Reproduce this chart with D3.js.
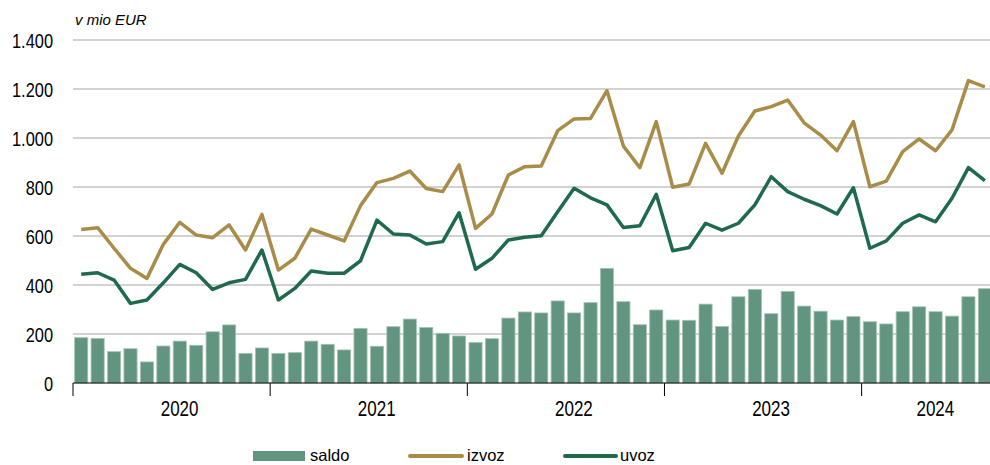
<!DOCTYPE html>
<html>
<head>
<meta charset="utf-8">
<script src="https://cdn.jsdelivr.net/npm/d3@7/dist/d3.min.js"></script>
<style>
  html, body { margin: 0; padding: 0; background: #fff; }
  svg { display: block; }
</style>
</head>
<body>
<svg id="chart" width="990" height="465"></svg>
<script>
// ---- data ----
const years = ["2020", "2021", "2022", "2023", "2024"];
const monthsPerYear = [12, 12, 12, 12, 8];
const yTicks = [0, 200, 400, 600, 800, 1000, 1200, 1400];
const unitLabel = "v mio EUR";
const seriesNames = ["saldo", "izvoz", "uvoz"];

const saldo = [185, 182, 128, 140, 86, 151, 171, 154, 209, 237, 121, 143,
               121, 124, 171, 158, 135, 223, 150, 230, 261, 227, 203, 192,
               165, 181, 265, 290, 286, 335, 286, 328, 468, 332, 238, 298,
               257, 256, 322, 231, 352, 382, 283, 374, 314, 293, 257, 271,
               250, 241, 291, 311, 291, 273, 352, 385];
const izvoz = [627, 634, 550, 468, 427, 566, 656, 604, 593, 645, 543, 688,
               461, 509, 628, 604, 580, 724, 818, 835, 865, 794, 781, 890,
               631, 690, 849, 883, 886, 1030, 1078, 1080, 1193, 967, 879, 1067,
               799, 812, 978, 856, 1008, 1110, 1128, 1155, 1062, 1012, 948, 1067,
               801, 824, 944, 996, 948, 1033, 1234, 1209];
const uvoz = [444, 450, 420, 325, 339, 409, 484, 450, 382, 409, 423, 543,
              339, 386, 457, 448, 448, 499, 665, 608, 604, 567, 577, 695,
              464, 509, 584, 595, 601, 699, 795, 756, 727, 635, 642, 770,
              540, 553, 652, 624, 652, 727, 842, 781, 750, 724, 690, 797,
              550, 580, 652, 686, 658, 754, 879, 826];

// categories: one per month
const categories = [];
years.forEach((yr, i) => { for (let m = 1; m <= monthsPerYear[i]; m++) categories.push(m + "/" + yr); });

(function draw() {
  const W = 990;
  const left = 73, step = 16.43;
  const right = left + step * categories.length;
  const plotTop = 40, plotBottom = 383;
  const colBar = "#62957f", colBarEdge = "#a7c4b6", colIzvoz = "#a88c48", colUvoz = "#1f6a4d", colGrid = "#c3c3c3";
  const sans = "Liberation Sans, Arial, sans-serif";

  const svg = d3.select("#chart");

  const x = d3.scaleBand().domain(categories).range([left, right]).paddingInner(0.2).paddingOuter(0.1);
  const y = d3.scaleLinear().domain([0, 1400]).range([plotBottom, plotTop]);

  const loc = d3.formatLocale({ decimal: ",", thousands: ".", grouping: [3], currency: ["", " EUR"] });
  const fmt = loc.format(",");

  // gridlines
  svg.append("g").selectAll("line").data(yTicks.filter(d => d > 0)).join("line")
    .attr("x1", left).attr("x2", W)
    .attr("y1", d => y(d)).attr("y2", d => y(d))
    .attr("stroke", colGrid).attr("stroke-width", 1.6);

  // y axis labels (condensed look)
  const yAxis = d3.axisLeft(y).tickValues(yTicks).tickFormat(fmt).tickSize(0).tickPadding(0);
  const gy = svg.append("g").attr("transform", "translate(53,0)").call(yAxis);
  gy.attr("font-family", sans).attr("font-size", 20);
  gy.select(".domain").remove();
  gy.selectAll("text").attr("fill", "#000").attr("dy", "0.35em").attr("transform", "scale(0.82,1)");

  // unit label
  svg.append("text").attr("x", 75).attr("y", 25).attr("font-family", sans)
    .attr("font-style", "italic").attr("font-size", 15).attr("fill", "#000").text(unitLabel);

  // bars
  svg.append("g").selectAll("rect").data(categories).join("rect")
    .attr("x", d => x(d)).attr("width", x.bandwidth())
    .attr("y", (d, i) => y(saldo[i])).attr("height", (d, i) => y(0) - y(saldo[i]))
    .attr("fill", colBar).attr("stroke", colBarEdge).attr("stroke-width", 0.8);

  // lines
  const line = d3.line().x((d, i) => x(categories[i]) + x.bandwidth() / 2).y(d => y(d));
  svg.append("path").datum(izvoz).attr("d", line).attr("fill", "none")
    .attr("stroke", colIzvoz).attr("stroke-width", 3.5).attr("stroke-linejoin", "round");
  svg.append("path").datum(uvoz).attr("d", line).attr("fill", "none")
    .attr("stroke", colUvoz).attr("stroke-width", 3.5).attr("stroke-linejoin", "round");

  // x axis line
  svg.append("line").attr("x1", left).attr("x2", W).attr("y1", plotBottom).attr("y2", plotBottom)
    .attr("stroke", "#000").attr("stroke-width", 1);

  // year ticks and labels
  let idx = 0;
  const yearStarts = [];
  years.forEach((yr, i) => { yearStarts.push(idx); idx += monthsPerYear[i]; });
  const boundary = k => left + step * k;
  svg.append("g").selectAll("line").data(yearStarts).join("line")
    .attr("x1", k => boundary(k)).attr("x2", k => boundary(k))
    .attr("y1", plotBottom).attr("y2", plotBottom + 13).attr("stroke", "#000").attr("stroke-width", 1);
  svg.append("g").selectAll("g").data(years).join("g")
    .attr("transform", (d, i) => "translate(" + ((boundary(yearStarts[i]) + boundary(yearStarts[i] + monthsPerYear[i])) / 2 + 8) + ",416) scale(0.79,1)")
    .append("text")
    .attr("font-family", sans).attr("font-size", 21.5).attr("fill", "#000").attr("text-anchor", "middle")
    .text(d => d);

  // legend
  const lg = svg.append("g").attr("font-family", sans).attr("font-size", 16.5);
  lg.append("rect").attr("x", 253).attr("y", 451).attr("width", 52).attr("height", 10).attr("fill", colBar);
  lg.append("text").attr("x", 310).attr("y", 461.3).text(seriesNames[0]);
  lg.append("line").attr("x1", 410).attr("x2", 462).attr("y1", 456).attr("y2", 456)
    .attr("stroke", colIzvoz).attr("stroke-width", 4).attr("stroke-linecap", "round");
  lg.append("text").attr("x", 467).attr("y", 461.3).text(seriesNames[1]);
  lg.append("line").attr("x1", 565).attr("x2", 616).attr("y1", 456).attr("y2", 456)
    .attr("stroke", colUvoz).attr("stroke-width", 4).attr("stroke-linecap", "round");
  lg.append("text").attr("x", 620).attr("y", 461.3).text(seriesNames[2]);
})();
</script>
</body>
</html>
